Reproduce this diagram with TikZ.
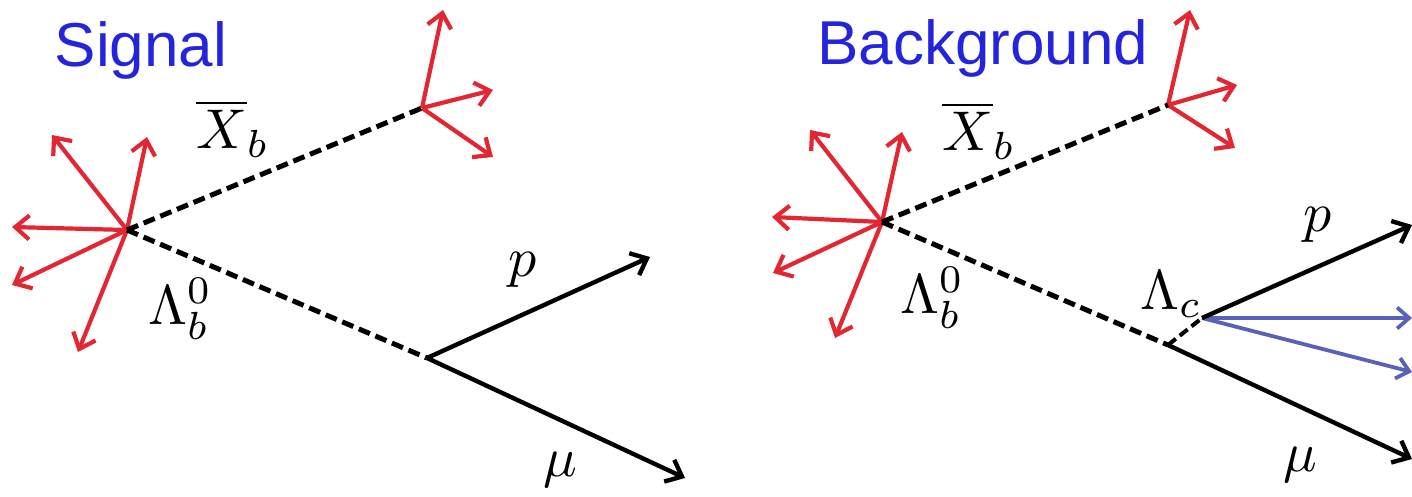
\documentclass[tikz,border=0pt]{standalone}
\usepackage{fontspec}
\setsansfont{Liberation Sans}
\usetikzlibrary{arrows.meta}
\definecolor{jetred}{RGB}{226,38,50}
\definecolor{titleblue}{RGB}{36,36,220}
\definecolor{trkblue}{RGB}{88,98,185}
\newcommand{\bigmath}[1]{\scalebox{5.6}{$#1$}}
\tikzset{
  jet/.style={draw=jetred,line width=4.2pt,-{Straight Barb[length=14pt,width=24pt,line width=4.2pt]}},
  trk/.style={draw=black,line width=4.4pt,-{Straight Barb[length=14pt,width=24pt,line width=4.4pt]}},
  btrk/.style={draw=trkblue,line width=3.8pt,-{Straight Barb[length=12pt,width=21pt,line width=3.8pt]}},
  heavy/.style={draw=black,line width=5pt,dash pattern=on 12pt off 6pt},
  title/.style={font=\sffamily\fontsize{62}{70}\selectfont,text=titleblue,inner sep=0pt},
  lbl/.style={inner sep=0pt}
}
\begin{document}
\begin{tikzpicture}[x=1pt,y=-1pt]
\useasboundingbox (0,0) rectangle (1412,497);
% ---------------- Signal ----------------
\node[title,anchor=base] (tsig) at (141,67) {Signal};
\coordinate (pv1) at (127,230);
\coordinate (xb1) at (422,108);
\coordinate (dv1) at (427,358);
\coordinate (j1a) at (52,135);
\coordinate (j1b) at (147,137);
\coordinate (j1c) at (12,227);
\coordinate (j1d) at (12,285);
\coordinate (j1e) at (78,352);
\coordinate (k1a) at (443,10);
\coordinate (k1b) at (493,90);
\coordinate (k1c) at (493,157);
\coordinate (p1) at (650,257);
\coordinate (m1) at (685,478);
\foreach \t in {j1a,j1b,j1c,j1d,j1e} \draw[jet] (pv1) -- (\t);
\foreach \t in {k1a,k1b,k1c} \draw[jet] (xb1) -- (\t);
\draw[heavy] (pv1) -- (xb1);
\draw[heavy] (pv1) -- (dv1);
\draw[trk] (dv1) -- (p1);
\draw[trk] (dv1) -- (m1);
\node[lbl,anchor=base west] (lx1) at (196,149) {\bigmath{\overline{X}_b}};
\node[lbl,anchor=base west] (ll1) at (148,324) {\bigmath{\Lambda_b^0}};
\node[lbl,anchor=base west] (lp1) at (508,276) {\bigmath{p}};
\node[lbl,anchor=base west] (lm1) at (543,476) {\bigmath{\mu}};
% ---------------- Background ----------------
\node[title,anchor=base] (tbg) at (983,65) {Background};
\coordinate (pv2) at (882,222);
\coordinate (xb2) at (1168,105);
\coordinate (dv2) at (1168,345);
\coordinate (lc2) at (1202,318);
\coordinate (j2a) at (810,130);
\coordinate (j2b) at (902,132);
\coordinate (j2c) at (772,217);
\coordinate (j2d) at (773,273);
\coordinate (j2e) at (835,338);
\coordinate (k2a) at (1190,10);
\coordinate (k2b) at (1237,85);
\coordinate (k2c) at (1235,148);
\coordinate (p2) at (1412,225);
\coordinate (m2) at (1412,459);
\coordinate (b2a) at (1412,318);
\coordinate (b2b) at (1412,372);
\foreach \t in {j2a,j2b,j2c,j2d,j2e} \draw[jet] (pv2) -- (\t);
\foreach \t in {k2a,k2b,k2c} \draw[jet] (xb2) -- (\t);
\draw[heavy] (pv2) -- (xb2);
\draw[heavy] (pv2) -- (dv2);
\draw[black,line width=4pt,dash pattern=on 10pt off 5pt] (dv2) -- (lc2);
\draw[btrk] (lc2) -- (b2a);
\draw[btrk] (lc2) -- (b2b);
\draw[trk] (lc2) -- (p2);
\draw[trk] (dv2) -- (m2);
\node[lbl,anchor=base west] (lx2) at (942,151) {\bigmath{\overline{X}_b}};
\node[lbl,anchor=base west] (ll2) at (900,313) {\bigmath{\Lambda_b^0}};
\node[lbl,anchor=base west] (lc2l) at (1140,309) {\bigmath{\Lambda_c}};
\node[lbl,anchor=base west] (lp2) at (1303,231) {\bigmath{p}};
\node[lbl,anchor=base west] (lm2) at (1283,471) {\bigmath{\mu}};
\end{tikzpicture}
\end{document}
